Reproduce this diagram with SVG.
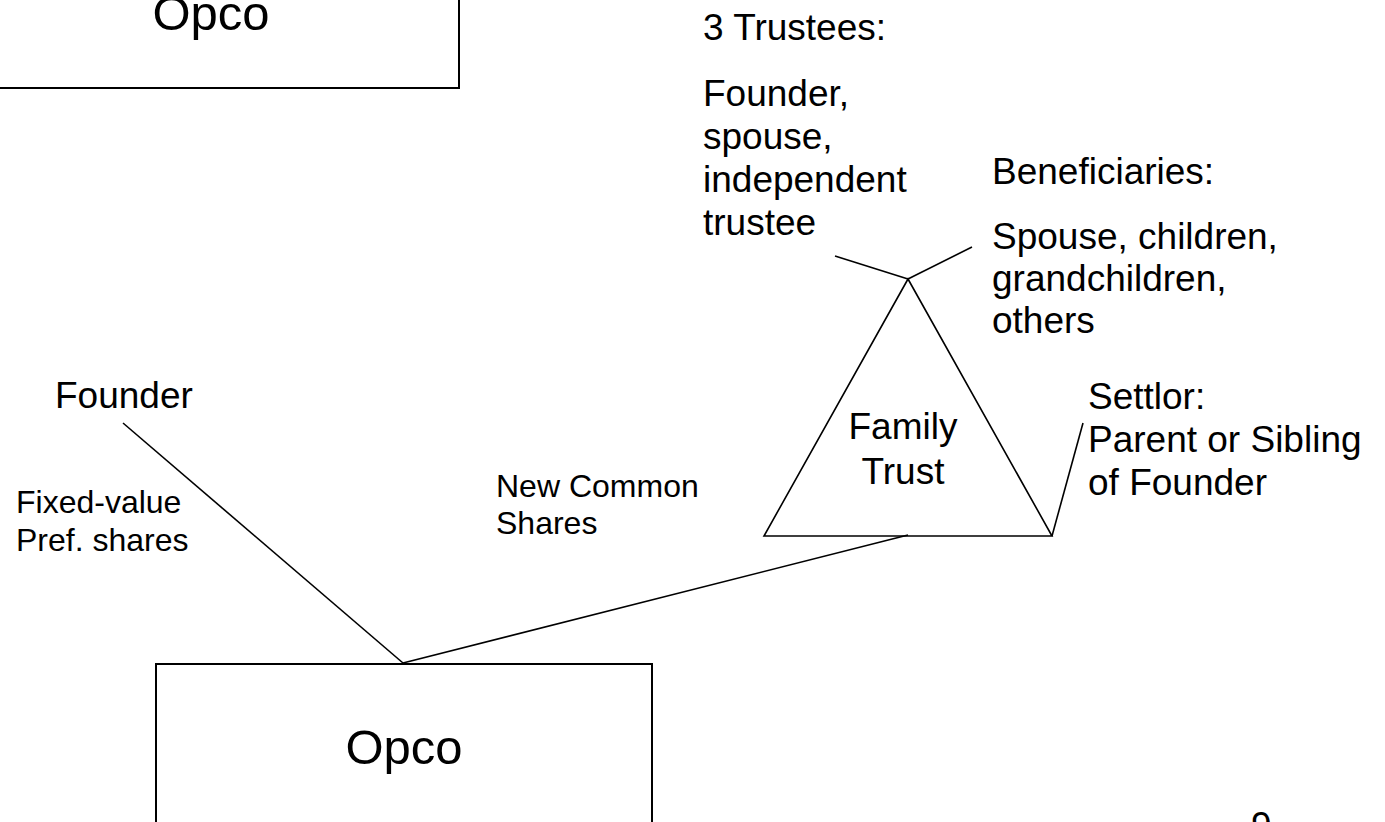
<svg xmlns="http://www.w3.org/2000/svg" width="1385" height="822" viewBox="0 0 1385 822">
<style>
  .t { font-family: "Liberation Sans", Arial, sans-serif; fill: #000; }
  .big { font-size: 49px; }
  .md { font-size: 37px; }
  .sm { font-size: 32px; }
  .box { fill: #fff; stroke: #000; stroke-width: 2; }
  .ln { fill: none; stroke: #000; stroke-width: 1.6; }
</style>
<rect width="1385" height="822" fill="#fff"/>
<g id="connectors">
  <line class="ln" x1="123" y1="423" x2="403" y2="663"/>
  <line class="ln" x1="403" y1="663" x2="908" y2="535"/>
  <line class="ln" x1="835" y1="256" x2="908" y2="279"/>
  <line class="ln" x1="908" y1="279" x2="972" y2="247"/>
  <line class="ln" x1="1052" y1="536" x2="1083" y2="423"/>
</g>
<g id="opco-top">
  <rect class="box" x="-37" y="-76" width="496" height="164"/>
  <text class="t big" x="211" y="30" text-anchor="middle">Opco</text>
</g>
<g id="opco-bottom">
  <rect class="box" x="156" y="664" width="496" height="170"/>
  <text class="t big" x="404" y="764" text-anchor="middle">Opco</text>
</g>
<g id="family-trust">
  <polygon class="ln" points="908,279 764,536 1052,536"/>
  <text class="t md" x="903" y="439" text-anchor="middle">Family</text>
  <text class="t md" x="903" y="484" text-anchor="middle">Trust</text>
</g>
<g id="trustees">
  <text class="t md" x="703" y="40">3 Trustees:</text>
  <text class="t md" x="703" y="106">Founder,</text>
  <text class="t md" x="703" y="149">spouse,</text>
  <text class="t md" x="703" y="192">independent</text>
  <text class="t md" x="703" y="235">trustee</text>
</g>
<g id="beneficiaries">
  <text class="t md" x="992" y="184">Beneficiaries:</text>
  <text class="t md" x="992" y="249">Spouse, children,</text>
  <text class="t md" x="992" y="291">grandchildren,</text>
  <text class="t md" x="992" y="333">others</text>
</g>
<g id="settlor">
  <text class="t md" x="1088" y="409">Settlor:</text>
  <text class="t md" x="1088" y="452">Parent or Sibling</text>
  <text class="t md" x="1088" y="495">of Founder</text>
</g>
<g id="founder">
  <text class="t md" x="55" y="408">Founder</text>
</g>
<g id="labels">
  <text class="t sm" x="16" y="513">Fixed-value</text>
  <text class="t sm" x="16" y="551">Pref. shares</text>
  <text class="t sm" x="496" y="497">New Common</text>
  <text class="t sm" x="496" y="534">Shares</text>
</g>
<g id="page-number">
  <text class="t md" x="1251" y="838">9</text>
</g>
</svg>
